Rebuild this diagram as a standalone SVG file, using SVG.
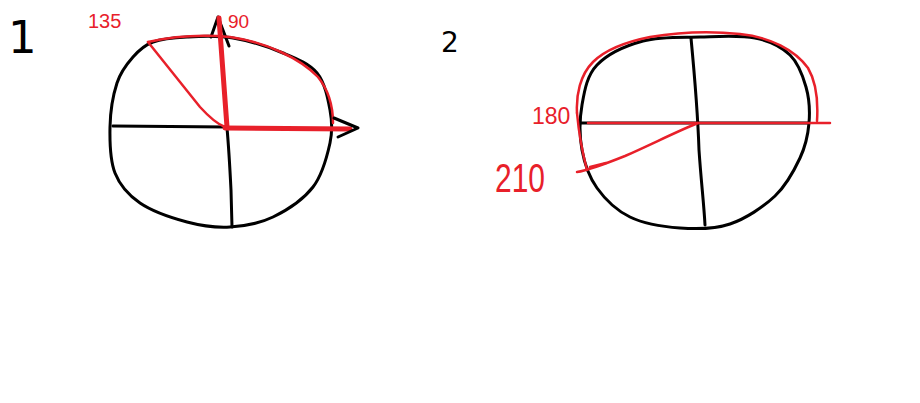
<svg xmlns="http://www.w3.org/2000/svg" width="920" height="403" viewBox="0 0 920 403">
<style>
.k{fill:none;stroke:#000;stroke-width:3;stroke-linecap:round;stroke-linejoin:round}
.r{fill:none;stroke:#e8202a;stroke-width:2.5;stroke-linecap:round;stroke-linejoin:round}
.rt{fill:none;stroke:#e8202a;stroke-width:5;stroke-linecap:round;stroke-linejoin:round}
.lr{fill:#e8202a;font-family:"Liberation Sans",Arial,sans-serif}
.lk{fill:#000;font-family:"DejaVu Sans",sans-serif}
</style>
<rect width="920" height="403" fill="#fff"/>
<g id="figure1">
<path class="k" d="M187,37 C200.3,36.3 217,35.3 233,38 C249,40.7 269,47.2 283,53 C297,58.8 309.2,63.5 317,73 C324.8,82.5 327.8,98.3 330,110 C332.2,121.7 332.8,130.2 330,143 C327.2,155.8 322.5,174.7 313,187 C303.5,199.3 286.8,210.3 273,217 C259.2,223.7 244.3,226.2 230,227 C215.7,227.8 202,226 187,222 C172,218 152,211.2 140,203 C128,194.8 120,185.7 115,173 C110,160.3 109.7,142 110,127 C110.3,112 113.2,94.7 117,83 C120.8,71.3 127,63.8 133,57 C139,50.2 144,45.3 153,42 C162,38.7 173.7,37.7 187,37 Z"/>
<path class="k" d="M113,126 L227,127"/>
<path class="k" d="M227,128 C229,150 230,170 231,190 L232,227"/>
<path class="k" d="M211,37 L218,17 L229,46"/>
<path class="r" d="M148,42 C170,37 200,34 230,37 C265,42 300,58 318,77 C330,92 333,110 333,123"/>
<path class="r" d="M148,42 L200,107 C210,118 217,124 225,127"/>
<path class="rt" d="M227,127 L219,18"/>
<path class="rt" d="M225,128 L350,129"/>
<path class="k" d="M334,118 L358,128 L338,137"/>
<text class="lk" x="8" y="53" font-size="45">1</text>
<text class="lr" x="88" y="28" font-size="20">135</text>
<text class="lr" x="228" y="28" font-size="19">90</text>
</g>
<g id="figure2">
<path class="k" d="M643,41 C660.2,36.3 681.3,37.5 700,37 C718.7,36.5 740,35 755,38 C770,41 781.5,46.8 790,55 C798.5,63.2 802.8,75.7 806,87 C809.2,98.3 810,111.2 809,123 C808,134.8 805.7,145.8 800,158 C794.3,170.2 786.7,185 775,196 C763.3,207 745.8,218.7 730,224 C714.2,229.3 696.7,229.2 680,228 C663.3,226.8 643.8,223.7 630,217 C616.2,210.3 605,199.2 597,188 C589,176.8 584.5,163.8 582,150 C579.5,136.2 579.5,119.2 582,105 C584.5,90.8 586.8,75.7 597,65 C607.2,54.3 625.8,45.7 643,41 Z"/>
<path class="k" d="M691,38 C695,80 698,120 699,150 C701,180 704,205 705,225"/>
<path class="k" d="M581,123 L808,123"/>
<path class="r" stroke-width="3.5" d="M588,123 L830,123"/>
<path class="r" d="M577,113 C576,95 580,75 593,62 C605,50 625,42 650,37 C680,32 710,31 740,34 C770,37 795,50 808,68 C818,85 818,105 817,121"/>
<path class="r" d="M577,113 C579,135 583,155 587,170"/>
<path class="r" d="M698,123 C680,130 650,145 625,156 C605,164 590,170 577,172"/>
<path class="r" d="M590,167 L606,163"/>
<text class="lk" x="441" y="52" font-size="28">2</text>
<text class="lr" x="532" y="124" font-size="23">180</text>
<text class="lr" x="495" y="192" font-size="40" textLength="50" lengthAdjust="spacingAndGlyphs">210</text>
</g>
</svg>
